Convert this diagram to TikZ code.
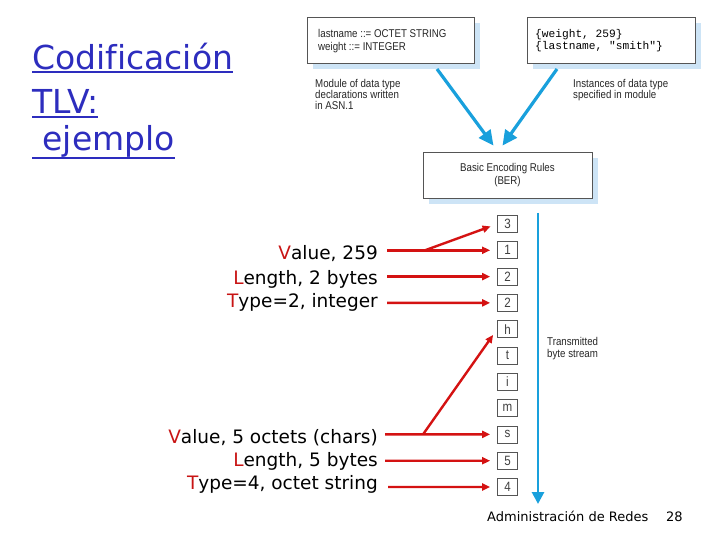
\documentclass[tikz,border=0pt]{standalone}
\usepackage{fontspec}
\setmainfont{Liberation Sans}
\newfontfamily\condf[FakeStretch=0.86]{Liberation Sans}
\newfontfamily\comicf[Ligatures=NoCommon]{DejaVu Sans}
\newfontfamily\monof{Liberation Mono}
\usetikzlibrary{arrows.meta,shadows}
\definecolor{titleblue}{RGB}{45,45,190}
\definecolor{arrred}{RGB}{212,18,18}
\definecolor{letred}{RGB}{200,20,20}
\definecolor{streamblue}{RGB}{25,160,220}
\definecolor{shadowblue}{RGB}{205,228,246}
\definecolor{boxgray}{RGB}{85,85,85}
\newcommand\myul[2]{\setbox0=\hbox{#2}\rlap{\rule[-#1]{\wd0}{2pt}}\box0}
\begin{document}
\begin{tikzpicture}[x=1pt,y=-1pt,
  shbox/.style={draw=boxgray, line width=0.8pt, fill=white, inner sep=0pt,
    drop shadow={shadow xshift=6pt, shadow yshift=-6pt, fill=shadowblue, opacity=1}},
  bytebox/.style={draw=boxgray, line width=0.7pt, fill=white, minimum width=20pt,
    minimum height=17pt, inner sep=0pt, font=\condf\fontsize{13.5}{13}\selectfont, text=black!75},
  diagtext/.style={font=\condf\fontsize{11.3}{11}\selectfont, align=left, inner sep=0pt, text=black!85},
  titletext/.style={font=\comicf\fontsize{33}{36}\selectfont, text=titleblue, anchor=base west, inner sep=0pt},
  tlvtext/.style={font=\comicf\fontsize{18.5}{20}\selectfont, anchor=base east, inner sep=0pt},
  redarrow/.style={draw=arrred, line width=2.4pt, -{Triangle[length=8pt,width=7pt]}, shorten >=7pt},
  bluearrow/.style={draw=streamblue, line width=3.2pt, -{Triangle[length=15pt,width=14pt]}}
]
\useasboundingbox (0,0) rectangle (720,540);

% title
\node[titletext] (t1) at (32,70) {\myul{3pt}{Codificación}};
\node[titletext] (t2) at (32,114) {\myul{4pt}{TLV:}};
\node[titletext] (t3) at (32,151) {\myul{8pt}{\ ejemplo}};

% top boxes
\node[shbox, minimum width=167pt, minimum height=46pt] (asn) at (390.5,40) {};
\node[diagtext, anchor=north west, font=\condf\fontsize{11.3}{13}\selectfont] (asntxt) at (318,29) {lastname ::= OCTET STRING\\weight ::= INTEGER};
\node[shbox, minimum width=168pt, minimum height=46pt] (inst) at (611,40) {};
\node[font=\monof\fontsize{11.2}{12.5}\selectfont, align=left, inner sep=0pt, anchor=north west] (insttxt) at (535,29) {\{weight, 259\}\\\{lastname, "smith"\}};

\node[diagtext, anchor=north west] (cap1) at (315,79) {Module of data type\\declarations written\\in ASN.1};
\node[diagtext, anchor=north west] (cap2) at (573,79) {Instances of data type\\specified in module};

% BER
\node[shbox, minimum width=169pt, minimum height=46pt, diagtext, align=center, font=\condf\fontsize{11.3}{13}\selectfont] (ber) at (507.5,175) {Basic Encoding Rules\\(BER)};

\coordinate (a1s) at (437,69);
\coordinate (a2s) at (557,69);
\draw[bluearrow] (a1s) -- ([xshift=-14pt,yshift=6pt]ber.north);
\draw[bluearrow] (a2s) -- ([xshift=-5pt,yshift=6pt]ber.north);

% byte stream
\foreach \n/\c [count=\i from 0] in {b1/3,b2/1,b3/2,b4/2,b5/h,b6/t,b7/i,b8/m,b9/s,b10/5,b11/4}{
  \node[bytebox] (\n) at (507.5,{224+26.3*\i}) {\c};
}
\coordinate (ss) at (538,213);
\coordinate (se) at (538,504);
\draw[draw=streamblue, line width=2.8pt, -{Triangle[length=12pt,width=12pt]}] (ss) -- (se);
\node[diagtext, anchor=north west, font=\condf\fontsize{11.3}{12.5}\selectfont] (tbs) at (547,337) {Transmitted\\byte stream};

% TLV labels
\node[tlvtext] (v1) at (378,259) {\textcolor{letred}{V}alue, 259};
\node[tlvtext] (l1) at (378,284) {\textcolor{letred}{L}ength, 2 bytes};
\node[tlvtext] (ty1) at (378,307) {\textcolor{letred}{T}ype=2, integer};
\node[tlvtext] (v2) at (378,443) {\textcolor{letred}{V}alue, 5 octets (chars)};
\node[tlvtext] (l2) at (378,466) {\textcolor{letred}{L}ength, 5 bytes};
\node[tlvtext] (ty2) at (378,489) {\textcolor{letred}{T}ype=4, octet string};

% red arrows
\coordinate (r1) at (387,250.3);
\coordinate (j1) at (425,250.3);
\coordinate (r2) at (387,276.6);
\coordinate (r3) at (387,302.9);
\coordinate (r4) at (385,434.4);
\coordinate (j4) at (423,434.4);
\coordinate (r5) at (385,460.7);
\coordinate (r6) at (388,487);
\draw[redarrow] (r1) -- (b2.west);
\draw[redarrow] (j1) -- (b1.west);
\draw[redarrow] (r2) -- (b3.west);
\draw[redarrow] (r3) -- (b4.west);
\draw[redarrow] (r4) -- (b9.west);
\draw[redarrow] (j4) -- (b5.west);
\draw[redarrow] (r5) -- (b10.west);
\draw[redarrow] (r6) -- (b11.west);

% footer
\node[font=\comicf\fontsize{13}{15}\selectfont, anchor=base west, inner sep=0pt] (foot) at (487,521) {Administración de Redes};
\node[font=\comicf\fontsize{13}{15}\selectfont, anchor=base west, inner sep=0pt] (page) at (666,521) {28};
\end{tikzpicture}
\end{document}
